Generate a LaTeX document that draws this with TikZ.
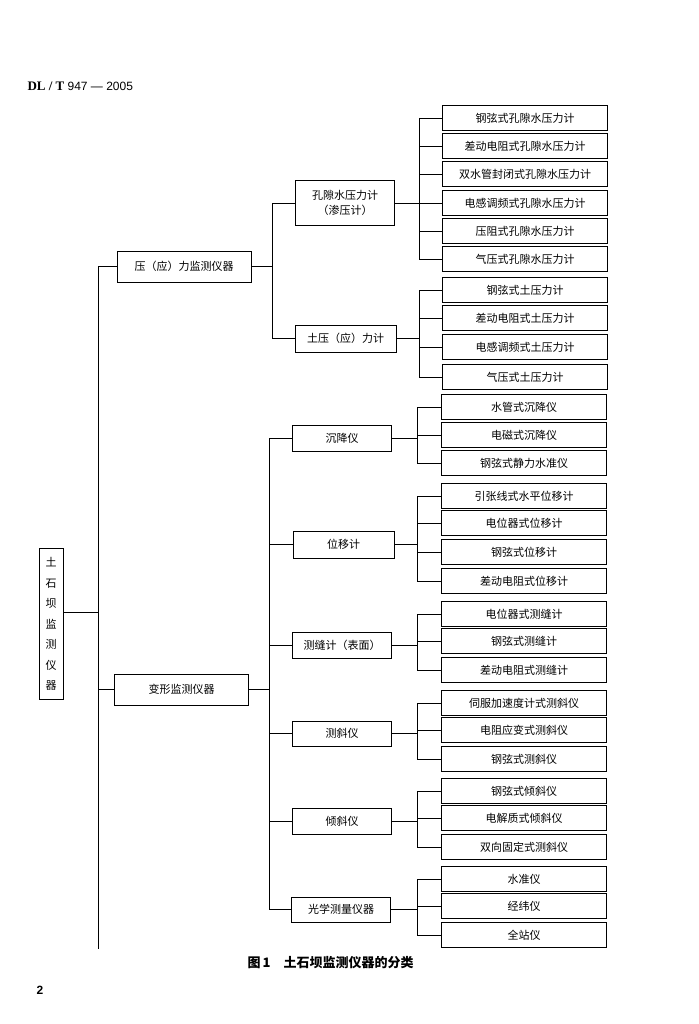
\documentclass[tikz,border=0pt]{standalone}
\usepackage{fontspec}
\setmainfont{Liberation Serif}
\setsansfont{Liberation Sans}
\newfontfamily\cjk{Noto Sans CJK SC}
\usepackage{tikz}

\begin{document}
\begin{tikzpicture}[x=1pt,y=-1pt,
    box/.style={draw, line width=0.9pt, inner sep=0pt, align=center,
        font=\cjk\fontsize{11}{15}\selectfont},
    leaf/.style={box, minimum width=165pt, minimum height=25pt},
    mid/.style={box, minimum width=99pt, minimum height=26pt},
    top/.style={box, minimum width=134pt, minimum height=31pt},
    link/.style={line width=0.8pt}]
    \useasboundingbox (0,0) rectangle (698,1024);

    \node[anchor=west, font=\fontsize{13}{15}\selectfont] (hdr) at (24,86)
        {\textbf{DL / T} \sffamily\fontsize{12}{14}\selectfont 947 --- 2005};

    \node[box, minimum width=24pt, minimum height=151pt,
        font=\cjk\fontsize{11}{20.5}\selectfont] (tsb) at (51,624)
        {土\\石\\坝\\监\\测\\仪\\器};

    \node[top] (yl) at (184,266.5) {压（应）力监测仪器};
    \node[top] (bx) at (181.5,689.5) {变形监测仪器};

    \node[mid, minimum height=45pt] (kx) at (345,203) {孔隙水压力计\\（渗压计）};
    \node[mid, minimum width=101pt, minimum height=27pt] (ty) at (345.5,338.5) {土压（应）力计};
    \node[mid] (cj) at (342,438) {沉降仪};
    \node[mid, minimum width=101pt, minimum height=27pt] (wy) at (343.5,544.5) {位移计};
    \node[mid] (cf) at (342,645) {测缝计（表面）};
    \node[mid, minimum height=25pt] (cx) at (342,733.5) {测斜仪};
    \node[mid] (qx) at (342,821) {倾斜仪};
    \node[mid, minimum height=25pt] (gx) at (341,909.5) {光学测量仪器};

    \node[leaf] (kx1) at (525,118) {钢弦式孔隙水压力计};
    \node[leaf] (kx2) at (525,146) {差动电阻式孔隙水压力计};
    \node[leaf] (kx3) at (525,174) {双水管封闭式孔隙水压力计};
    \node[leaf] (kx4) at (525,203) {电感调频式孔隙水压力计};
    \node[leaf] (kx5) at (525,231) {压阻式孔隙水压力计};
    \node[leaf] (kx6) at (525,259) {气压式孔隙水压力计};

    \node[leaf] (ty1) at (525,290) {钢弦式土压力计};
    \node[leaf] (ty2) at (525,318) {差动电阻式土压力计};
    \node[leaf] (ty3) at (525,347) {电感调频式土压力计};
    \node[leaf] (ty4) at (525,377) {气压式土压力计};

    \node[leaf] (cj1) at (524,407) {水管式沉降仪};
    \node[leaf] (cj2) at (524,435) {电磁式沉降仪};
    \node[leaf] (cj3) at (524,463) {钢弦式静力水准仪};

    \node[leaf] (wy1) at (524,496) {引张线式水平位移计};
    \node[leaf] (wy2) at (524,523) {电位器式位移计};
    \node[leaf] (wy3) at (524,552) {钢弦式位移计};
    \node[leaf] (wy4) at (524,581) {差动电阻式位移计};

    \node[leaf] (cf1) at (524,614) {电位器式测缝计};
    \node[leaf] (cf2) at (524,641) {钢弦式测缝计};
    \node[leaf] (cf3) at (524,670) {差动电阻式测缝计};

    \node[leaf] (cx1) at (524,703) {伺服加速度计式测斜仪};
    \node[leaf] (cx2) at (524,730) {电阻应变式测斜仪};
    \node[leaf] (cx3) at (524,759) {钢弦式测斜仪};

    \node[leaf] (qx1) at (524,791) {钢弦式倾斜仪};
    \node[leaf] (qx2) at (524,818) {电解质式倾斜仪};
    \node[leaf] (qx3) at (524,847) {双向固定式测斜仪};

    \node[leaf] (gx1) at (524,879) {水准仪};
    \node[leaf] (gx2) at (524,906) {经纬仪};
    \node[leaf] (gx3) at (524,935) {全站仪};

    % trunk
    \coordinate (trunk) at (98,949);
    \draw[link] (yl.west) -| (trunk);
    \draw[link] (bx.west) -- (bx.west -| trunk);
    \draw[link] ([yshift=12pt]tsb.east) coordinate (r) -- (r -| trunk);

    % second level
    \coordinate (ylbus) at (272,0);
    \draw[link] (yl.east) -- (yl.east -| ylbus);
    \draw[link] (kx.west) -| (ylbus |- ty.west) -- (ty.west);
    \coordinate (bxbus) at (269,0);
    \draw[link] (bx.east) -- (bx.east -| bxbus);
    \draw[link] (cj.west) -| (bxbus |- gx.west) -- (gx.west);
    \foreach \n in {wy,cf,cx,qx}
        \draw[link] (\n.west) -- (\n.west -| bxbus);

    % third level
    \foreach \g/\k/\b in {kx/6/419, ty/4/419, cj/3/417, wy/4/417,
                          cf/3/417, cx/3/417, qx/3/417, gx/3/417} {
        \draw[link] (\g.east) -- (\g.east -| \b,0);
        \draw[link] (\g1.west -| \b,0) -- (\g\k.west -| \b,0);
        \foreach \i in {1,...,\k}
            \draw[link] (\g\i.west) -- (\g\i.west -| \b,0);
    }

    \node[anchor=west, font=\cjk\bfseries\fontsize{13}{15}\selectfont] (cap) at (244,963)
        {图\,1\quad 土石坝监测仪器的分类};
    \node[anchor=west, font=\sffamily\bfseries\fontsize{12}{14}\selectfont] (pg) at (33,990) {2};
\end{tikzpicture}
\end{document}
